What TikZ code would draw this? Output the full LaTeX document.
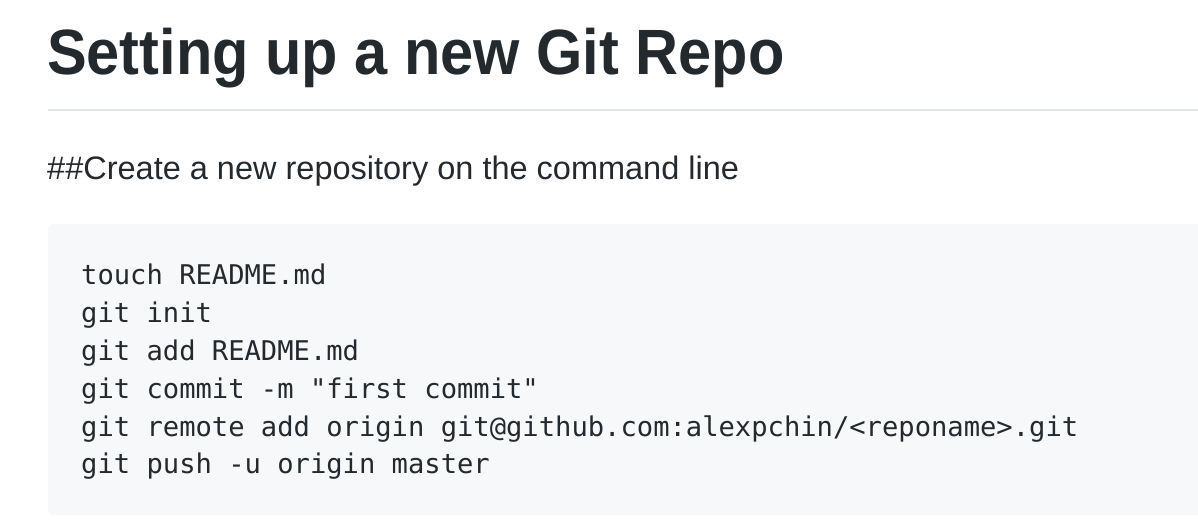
\documentclass[tikz,border=0pt]{standalone}
\usepackage{fontspec}
\setmainfont{Liberation Sans}
\setmonofont{DejaVu Sans Mono}
\newfontfamily\headfont[FakeStretch=0.93]{Liberation Sans}
\usepackage{tikz}
\definecolor{ink}{HTML}{24292E}
\definecolor{codebg}{HTML}{F6F8FA}
\definecolor{rulegray}{HTML}{E1E4E8}
\tikzset{codeline/.style={anchor=base west, inner sep=0pt, text=ink,
  font=\ttfamily\fontsize{27.15}{30}\selectfont}}
\begin{document}
\begin{tikzpicture}[x=1pt,y=-1pt]

        \def\xmax{1198}
        \def\ymax{526}
        \useasboundingbox (0,0) rectangle (\xmax,\ymax);
%        \draw[style=help lines, step=50] (0,0) grid (\xmax,\ymax);

        % heading and rule
        \node[anchor=base west, inner sep=0pt, text=ink,
              font=\headfont\bfseries\fontsize{64}{70}\selectfont] (title) at (47,75) {Setting up a new Git Repo};
        \draw[rulegray, line width=2pt] (48,110) -- (\xmax,110);

        \node[anchor=base west, inner sep=0pt, text=ink,
              font=\fontsize{32.5}{36}\selectfont] (intro) at (47,180) {\#\#Create a new repository on the command line};

        % code block
        \fill[codebg, rounded corners=6pt] (48,224) rectangle (\xmax+10,515);

        \node[codeline] (touch)  at (81,284) {touch README.md};
        \node[codeline] (init)   at (81,322) {git init};
        \node[codeline] (add)    at (81,360) {git add README.md};
        \node[codeline] (commit) at (81,398) {git commit -m "first commit"};
        \node[codeline] (remote) at (81,436) {git remote add origin git@github.com:alexpchin/<reponame>.git};
        \node[codeline] (push)   at (81,473) {git push -u origin master};

\end{tikzpicture}
\end{document}
